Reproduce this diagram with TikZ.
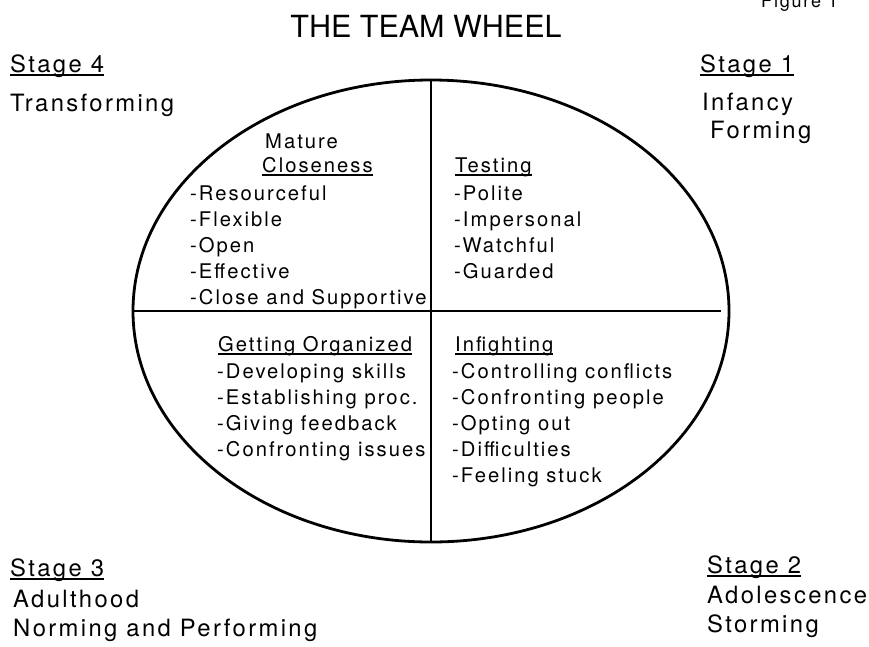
\documentclass[tikz,border=0pt]{standalone}
\usepackage{fontspec}
\usetikzlibrary{shapes.geometric}
\newfontfamily\hvls[LetterSpace=10]{TeX Gyre Heros}
\newfontfamily\hvplain{TeX Gyre Heros}
\newcommand\ulin[1]{\setbox0=\hbox{#1}\rlap{\rule[-3.6pt]{\wd0}{1.2pt}}\box0}
\tikzset{
  innertxt/.style={anchor=base west, inner sep=0pt, font=\hvls\fontsize{20.2pt}{24pt}\selectfont},
  outertxt/.style={anchor=base west, inner sep=0pt, font=\hvls\fontsize{23.8pt}{28pt}\selectfont},
  titletxt/.style={anchor=base, inner sep=0pt, font=\hvplain\fontsize{30.5pt}{34pt}\selectfont},
  figtxt/.style={anchor=base west, inner sep=0pt, font=\hvls\fontsize{18pt}{22pt}\selectfont},
  divider/.style={line width=1.6pt},
}
\begin{document}
\begin{tikzpicture}[x=1pt,y=-1pt]
\useasboundingbox (0,0) rectangle (869,646);
\clip (0,0) rectangle (869,646);
% wheel
\node (wheel) [draw, ellipse, line width=2.8pt, minimum width=596pt, minimum height=462pt, inner sep=0pt] at (431,311) {};
\coordinate (hend) at (721,311);
\draw[divider] (wheel.north) -- (wheel.south);
\draw[divider] (wheel.west) -- (hend);
% title
\node (title) [titletxt] at (426,37) {THE TEAM WHEEL};
\node (fig) [figtxt] at (761,7) {Figure 1};
% outer labels
\node (s4) [outertxt] at (10,72) {\ulin{Stage 4}};
\node (s4a) [outertxt] at (10,111) {Transforming};
\node (s1) [outertxt] at (700,72) {\ulin{Stage 1}};
\node (s1a) [outertxt] at (702,110) {Infancy};
\node (s1b) [outertxt] at (710,138) {Forming};
\node (s3) [outertxt] at (10,576) {\ulin{Stage 3}};
\node (s3a) [outertxt] at (13,607) {Adulthood};
\node (s3b) [outertxt] at (13,636) {Norming and Performing};
\node (s2) [outertxt] at (707,573) {\ulin{Stage 2}};
\node (s2a) [outertxt] at (707,603) {Adolescence};
\node (s2b) [outertxt] at (707,632) {Storming};
% top-left quadrant
\node (mature) [innertxt] at (265,148) {Mature};
\node (close) [innertxt] at (262,172) {\ulin{Closeness}};
\foreach \t [count=\i] in {-Resourceful,-Flexible,-Open,-Effective,-Close and Supportive}
  \node (tl\i) [innertxt] at (190,{174+26*\i}) {\t};
% top-right quadrant
\node (test) [innertxt] at (455,172) {\ulin{Testing}};
\foreach \t [count=\i] in {-Polite,-Impersonal,-Watchful,-Guarded}
  \node (tr\i) [innertxt] at (454,{174+26*\i}) {\t};
% bottom-left quadrant
\node (org) [innertxt] at (218,351) {\ulin{Getting Organized}};
\foreach \t [count=\i] in {-Developing skills,-Establishing proc.,-Giving feedback,-Confronting issues}
  \node (bl\i) [innertxt] at (217,{352+26*\i}) {\t};
% bottom-right quadrant
\node (fight) [innertxt] at (455,351) {\ulin{Infighting}};
\foreach \t [count=\i] in {-Controlling conflicts,-Confronting people,-Opting out,-Difficulties,-Feeling stuck}
  \node (br\i) [innertxt] at (452,{352+26*\i}) {\t};
\end{tikzpicture}
\end{document}
